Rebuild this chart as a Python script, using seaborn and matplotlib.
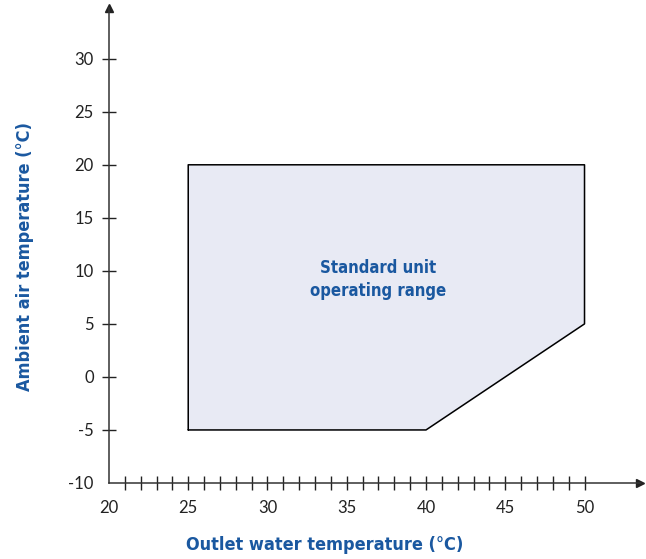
import numpy as np
import pandas as pd
import matplotlib
matplotlib.use('Agg')
import matplotlib.pyplot as plt
import seaborn as sns

# operating envelope corners (outlet water temp, ambient air temp)
water_temp = [25, 25, 50, 50, 40, 25]
air_temp = [-5, 20, 20, 5, -5, -5]
x_major = [20, 25, 30, 35, 40, 45, 50]
x_minor = list(range(21, 51))
y_ticks = [-10, -5, 0, 5, 10, 15, 20, 25, 30]
area_label = 'Standard unit\noperating range'

BLUE = '#1a58a0'
FILL = '#e8eaf4'
NARROW = dict(family='DejaVu Sans', fontstretch='condensed', fontweight='bold')

sns.set_theme(style='white')
plt.rcParams['font.family'] = ['Lato', 'DejaVu Sans']

fig = plt.figure(figsize=(6.46, 5.59), dpi=100)
ax = fig.add_axes([0.1687, 0.136, 0.822, 0.85])

df = pd.DataFrame({'water': water_temp, 'air': air_temp})
ax.fill(df['water'], df['air'], color=FILL, zorder=1)
sns.lineplot(data=df, x='water', y='air', sort=False, estimator=None,
             color='black', linewidth=1.1, ax=ax, zorder=2)

ax.text(37.0, 9.2, area_label, ha='center', va='center', color=BLUE,
        fontsize=12, linespacing=1.35, **NARROW)

ax.set_xlim(20, 53.5)
ax.set_ylim(-10, 34.8)

# axes with arrows
for s in ['top', 'right']:
    ax.spines[s].set_visible(False)
for s in ['left', 'bottom']:
    ax.spines[s].set_color('#333333')
    ax.spines[s].set_linewidth(1.1)
ax.plot(1, 0, '>', color='#222222', markersize=6, transform=ax.transAxes, clip_on=False)
ax.plot(0, 1, '^', color='#222222', markersize=6, transform=ax.transAxes, clip_on=False)

ax.xaxis.remove_overlapping_locs = False
ax.set_xticks(x_major)
ax.set_xticklabels([str(v) for v in x_major])
ax.set_xticks(x_minor, minor=True)
ax.tick_params(axis='x', which='major', bottom=True, length=0, pad=12,
               labelsize=12, labelcolor='#222222')
ax.tick_params(axis='x', which='minor', bottom=True, direction='inout',
               length=10, width=1, color='#222222')
ax.set_yticks(y_ticks)
ax.set_yticklabels([str(v) for v in y_ticks])
ax.tick_params(axis='y', left=True, direction='inout', length=10, width=1,
               color='#222222', pad=6, labelsize=12, labelcolor='#222222')
# hide the -10 tick mark on the origin
ax.yaxis.get_major_ticks()[0].tick1line.set_visible(False)
ax.grid(False)

ax.set_xlabel('Outlet water temperature (°C)', color=BLUE, fontsize=13, **NARROW)
ax.set_ylabel('Ambient air temperature (°C)', color=BLUE, fontsize=13, **NARROW)
ax.xaxis.set_label_coords(0.407, -0.112)
ax.yaxis.set_label_coords(-0.142, 0.476)

fig.savefig('out.png', dpi=100)
plt.close()
